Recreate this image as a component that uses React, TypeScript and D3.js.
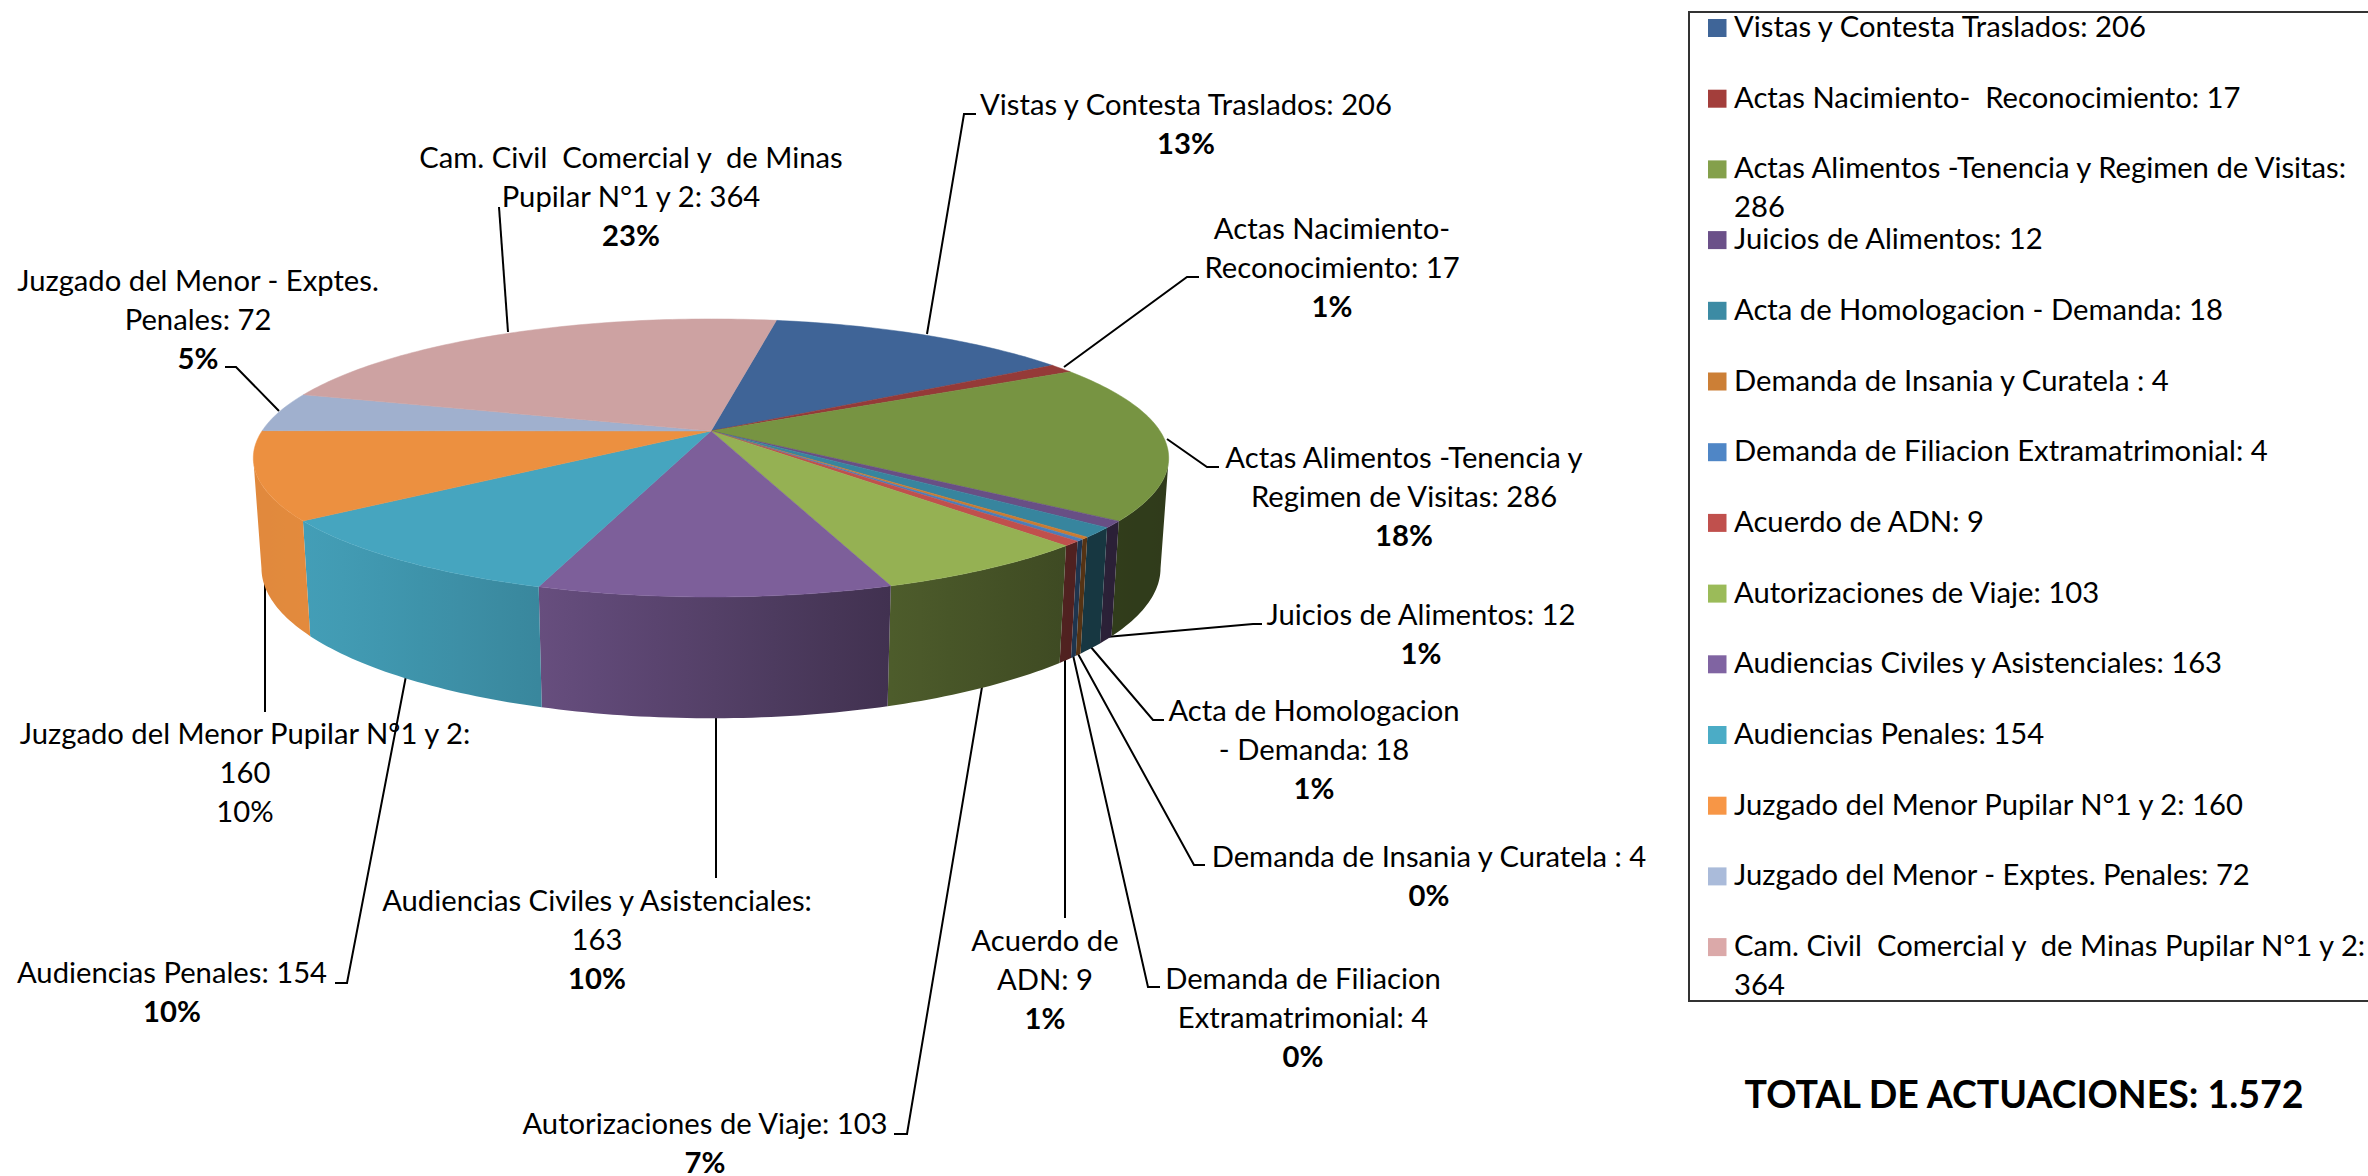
import React from "react";
import * as d3 from "d3";

const categories = [
  "Vistas y Contesta Traslados", "Actas Nacimiento-  Reconocimiento", "Actas Alimentos -Tenencia y Regimen de Visitas",
  "Juicios de Alimentos", "Acta de Homologacion - Demanda", "Demanda de Insania y Curatela ",
  "Demanda de Filiacion Extramatrimonial", "Acuerdo de ADN", "Autorizaciones de Viaje",
  "Audiencias Civiles y Asistenciales", "Audiencias Penales", "Juzgado del Menor Pupilar N°1 y 2",
  "Juzgado del Menor - Exptes. Penales", "Cam. Civil  Comercial y  de Minas Pupilar N°1 y 2",
];
const values = [206, 17, 286, 12, 18, 4, 4, 9, 103, 163, 154, 160, 72, 364];
const topColors = ["#3f6497", "#953a38", "#779442", "#684f85", "#37859e", "#cc7b30", "#4a7ebb", "#c0504d", "#95b153", "#7d5f9a", "#46a5bf", "#ec9040", "#a0b0ce", "#cda2a2"];
const legendColors = ["#3f6598", "#a33e3b", "#84a04b", "#6b5089", "#3c8ba4", "#cc7f36", "#4f86c6", "#c0504d", "#9bbb59", "#8064a2", "#4bacc6", "#f79646", "#aabbda", "#dba9a9"];

// Data label layout: text lines, centre x, first baseline, whether % is bold
const labelLines = [
  ["Vistas y Contesta Traslados: 206", "13%"],
  ["Actas Nacimiento-", "Reconocimiento: 17", "1%"],
  ["Actas Alimentos -Tenencia y", "Regimen de Visitas: 286", "18%"],
  ["Juicios de Alimentos: 12", "1%"],
  ["Acta de Homologacion", "- Demanda: 18", "1%"],
  ["Demanda de Insania y Curatela : 4", "0%"],
  ["Demanda de Filiacion", "Extramatrimonial: 4", "0%"],
  ["Acuerdo de", "ADN: 9", "1%"],
  ["Autorizaciones de Viaje: 103", "7%"],
  ["Audiencias Civiles y Asistenciales:", "163", "10%"],
  ["Audiencias Penales: 154", "10%"],
  ["Juzgado del Menor Pupilar N°1 y 2:", "160", "10%"],
  ["Juzgado del Menor - Exptes.", "Penales: 72", "5%"],
  ["Cam. Civil  Comercial y  de Minas", "Pupilar N°1 y 2: 364", "23%"],
];
const labelX = [1186, 1332, 1404, 1421, 1314, 1429, 1303, 1045, 705, 597, 172, 245, 198, 631];
const labelY = [114.5, 239, 467.5, 624.5, 720.5, 866.5, 988.5, 951, 1134, 911, 983, 744, 291, 168];
const boldPct = [true, true, true, true, true, true, true, true, true, true, true, false, true, true];
const leaders = [
  [[927, 334], [964, 114], [976, 114]],
  [[1064, 367], [1187, 277], [1199, 277]],
  [[1167, 439], [1207, 467], [1219, 467]],
  [[1106, 637], [1253, 624], [1262, 624]],
  [[1090, 646], [1153, 720], [1164, 720]],
  [[1077, 652], [1194, 865], [1205, 865]],
  [[1073, 655], [1148, 987], [1160, 987]],
  [[1065, 658], [1065, 918]],
  [[982, 687], [907, 1134], [894, 1134]],
  [[716, 718], [716, 878]],
  [[406, 676], [347, 983], [335, 983]],
  [[265, 581], [265, 712]],
  [[279, 411], [236, 367], [225, 367]],
  [[508, 332], [499, 207]],
];
const legendLines = [
  ["Vistas y Contesta Traslados: 206"], ["Actas Nacimiento-  Reconocimiento: 17"],
  ["Actas Alimentos -Tenencia y Regimen de Visitas:", "286"], ["Juicios de Alimentos: 12"],
  ["Acta de Homologacion - Demanda: 18"], ["Demanda de Insania y Curatela : 4"],
  ["Demanda de Filiacion Extramatrimonial: 4"], ["Acuerdo de ADN: 9"], ["Autorizaciones de Viaje: 103"],
  ["Audiencias Civiles y Asistenciales: 163"], ["Audiencias Penales: 154"],
  ["Juzgado del Menor Pupilar N°1 y 2: 160"], ["Juzgado del Menor - Exptes. Penales: 72"],
  ["Cam. Civil  Comercial y  de Minas Pupilar N°1 y 2:", "364"],
];
const totalText = "TOTAL DE ACTUACIONES: 1.572";

const FONT = "Lato, Carlito, Calibri, sans-serif";
const FS = 29;
const SX = 1.008;

// Perspective projection of the disc
const P = 0.194;
const topDisc = { cx: 711, cy: 431, A: 449, B: 133.8 };
const botDisc = { cx: 711, cy: 539, A: 441, B: 144.5 };
function project(d: typeof topDisc, theta: number): [number, number] {
  const x = Math.sin(theta), z = -Math.cos(theta), w = 1 - P * z;
  return [d.cx + (d.A * x) / w, d.cy + (d.B * z) / w];
}
const silhouetteL = Math.acos(-P);
const silhouetteR = 2 * Math.PI - silhouetteL;

const pieGen = d3.pie<number>().sort(null).startAngle((10 * Math.PI) / 180).endAngle((370 * Math.PI) / 180);
const arcs = pieGen(values);
const line = d3.line<[number, number]>();
const shade = d3.scaleLinear<number>().domain([253, 304, 540, 886, 1060, 1170]).range([0.95, 0.96, 0.82, 0.52, 0.42, 0.4]).clamp(true);

function samples(a: number, b: number): number[] {
  const n = Math.max(2, Math.ceil((b - a) / (Math.PI / 180)));
  return d3.range(n + 1).map((i) => a + ((b - a) * i) / n);
}
function scaled(hex: string, k: number) {
  const c = d3.rgb(hex);
  return d3.rgb(c.r * k, c.g * k, c.b * k).formatHex();
}

function T({ x, y, anchor = "middle", bold = false, size = FS, children }: any) {
  return (
    <text transform={`translate(${x},${y}) scale(${SX},1)`} textAnchor={anchor} fontFamily={FONT} fontSize={size}
      fontWeight={bold ? 700 : 400} fill="#000" style={{ whiteSpace: "pre" }}>
      {children}
    </text>
  );
}

export default function App() {
  const sides = arcs.map((a, i) => {
    const s = Math.max(a.startAngle, silhouetteL), e = Math.min(a.endAngle, silhouetteR);
    if (e <= s) return null;
    const ths = samples(s, e);
    const top = ths.map((t) => project(topDisc, t));
    const bot = ths.map((t) => project(botDisc, t)).reverse();
    const xs = top.map((p) => p[0]);
    const x0 = d3.min(xs)!, x1 = d3.max(xs)!;
    const stops = d3.range(7).map((j) => {
      const f = j / 6, x = x0 + (x1 - x0) * f;
      return { f, color: scaled(topColors[i], shade(x)) };
    });
    return { i, d: line([...top, ...bot])! + "Z", x0, x1, stops };
  }).filter(Boolean) as any[];

  return (
    <svg width={2368} height={1176} style={{ position: "absolute", left: 0, top: 0, background: "#fff" }}>
      <defs>
        {sides.map((s) => (
          <linearGradient key={s.i} id={`side${s.i}`} gradientUnits="userSpaceOnUse" x1={s.x0} x2={s.x1} y1={0} y2={0}>
            {s.stops.map((st: any, j: number) => <stop key={j} offset={st.f} stopColor={st.color} />)}
          </linearGradient>
        ))}
      </defs>

      {leaders.map((pts, i) => (
        <path key={i} d={line(pts as [number, number][])!} fill="none" stroke="#000" strokeWidth={2} />
      ))}

      {sides.map((s) => <path key={s.i} d={s.d} fill={`url(#side${s.i})`} />)}
      {arcs.map((a, i) => {
        const pts = samples(a.startAngle, a.endAngle).map((t) => project(topDisc, t));
        return <path key={i} d={line([[topDisc.cx, topDisc.cy], ...pts])! + "Z"} fill={topColors[i]} stroke={topColors[i]} strokeWidth={0.5} />;
      })}

      {labelLines.map((lines, i) =>
        lines.map((l, j) => (
          <T key={`${i}-${j}`} x={labelX[i]} y={labelY[i] + j * 39} bold={j === lines.length - 1 && boldPct[i]}>{l}</T>
        ))
      )}

      <path d="M2368,12H1689V1001H2368" fill="none" stroke="#333" strokeWidth={2} />
      {legendLines.map((lines, i) => {
        const top = 19 + i * 70.7;
        return (
          <g key={categories[i]}>
            <rect x={1708} y={top} width={18.5} height={18} fill={legendColors[i]} />
            {lines.map((l, j) => <T key={j} x={1734} y={top + 18 + j * 39} anchor="start">{l}</T>)}
          </g>
        );
      })}
      <T x={2024} y={1108} bold size={37.2}>{totalText}</T>
    </svg>
  );
}
